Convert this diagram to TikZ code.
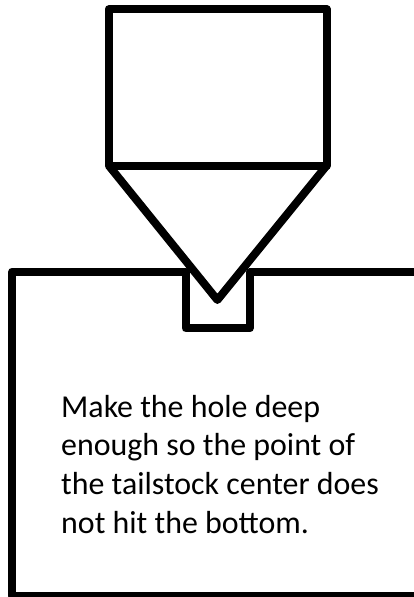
\documentclass[tikz,border=0pt]{standalone}
\usepackage{fontspec}
\setmainfont{Carlito}
\begin{document}
\begin{tikzpicture}[x=1pt,y=-1pt,shapeline/.style={draw=black,line width=8pt,line join=round}]
\useasboundingbox (0,0) rectangle (414,597);
\fill[white] (0,0) rectangle (414,597);
\coordinate (tl) at (108.8,9.2);\coordinate (tr) at (326.6,9.2);
\coordinate (ml) at (108.8,165.6);\coordinate (mr) at (326.6,165.6);
\coordinate (tip) at (217.4,300);
\draw[shapeline] (tl) -- (tr) -- (mr) -- (ml) -- cycle;
\draw[shapeline] (ml) -- (tip) -- (mr);
\draw[shapeline] (416,271.5) -- (249.7,271.5) -- (249.7,328.3) -- (185.7,328.3) -- (185.7,271.5) -- (12.3,271.5) -- (12.3,595.7) -- (416,595.7);
\node[anchor=base west,inner sep=0pt,align=left,font=\fontsize{31.9}{38.7}\selectfont] (txt) at (61,533.2) {Make the hole deep\\enough so the point of\\the tailstock center does\\not hit the bottom.};
\end{tikzpicture}
\end{document}
